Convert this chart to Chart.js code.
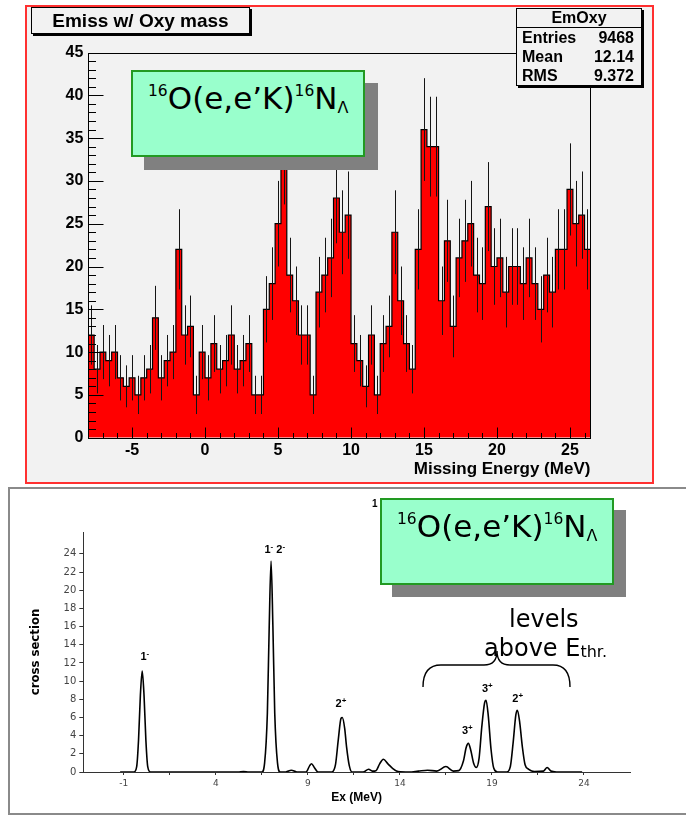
<!DOCTYPE html>
<html>
<head>
<meta charset="utf-8">
<script src="https://cdn.jsdelivr.net/npm/chart.js@4.4.1/dist/chart.umd.min.js"></script>
<style>
  body { margin: 0; width: 686px; height: 815px; background: #fff; position: relative; overflow: hidden; font-family: "Liberation Sans", Arial, sans-serif; }
  canvas { position: absolute; left: 0; }
  .abs { position: absolute; }
  #frameTop { left: 25px; top: 5px; width: 625px; height: 475px; border: 2px solid #ff3030; background: #f2f2f2; }
  #frameBottom { left: 8px; top: 487px; width: 690px; height: 324px; border: 2px solid #8a8a8a; background: #fff; }
  #titleBox { left: 31px; top: 7px; width: 217px; height: 25px; border: 1px solid #000; box-shadow: 2px 2px 0 #000; background: #f2f2f2;
    font-weight: bold; font-size: 19px; line-height: 25px; text-align: center; }
  #statsBox { left: 516px; top: 8px; width: 124px; height: 76px; border: 1px solid #000; box-shadow: 2px 2px 0 #000; background: #f2f2f2;
    font-weight: bold; font-size: 16px; }
  #statsBox .hdr { position: absolute; left: 0; top: 0; width: 124px; height: 18px; line-height: 18px; text-align: center; border-bottom: 1px solid #000; }
  #statsBox .row { position: absolute; left: 5px; width: 112px; height: 19px; line-height: 19px; }
  #statsBox .row span { float: right; }
  .shadow { background: #808080; width: 234px; height: 87px; }
  .gbox { width: 230px; height: 83px; background: #99ffcc; border: 2px solid #229a22; font-family: "DejaVu Sans", Verdana, sans-serif;
    font-size: 31px; line-height: 31px; white-space: nowrap; }
  .gbox .txt { position: absolute; left: 15px; top: 11px; }
  .gbox sup { font-size: 15.5px; vertical-align: 13px; line-height: 0; }
  .gbox sub { font-size: 16px; vertical-align: -4px; line-height: 0; }
  .big { font-family: "DejaVu Sans", Verdana, sans-serif; font-size: 24px; white-space: nowrap; }
  .big sub { font-size: 16px; vertical-align: -1px; line-height: 0; }
</style>
</head>
<body>
<div id="frameTop" class="abs"></div>
<canvas id="emissChart" width="686" height="485" style="top:0"></canvas>
<div id="titleBox" class="abs">Emiss w/ Oxy mass</div>
<div id="statsBox" class="abs"></div>
<div class="abs shadow" style="left:144px;top:83px"></div>
<div class="abs gbox" style="left:131px;top:70px"><div class="txt"><sup>16</sup>O(e,e’K)<sup>16</sup>N<sub>Λ</sub></div></div>

<div id="frameBottom" class="abs"></div>
<canvas id="exChart" width="686" height="330" style="top:485px"></canvas>
<div class="abs" style="left:372px;top:498px;font-weight:bold;font-size:10px">1</div>
<div class="abs shadow" style="left:392px;top:510px"></div>
<div class="abs gbox" style="left:380px;top:498px"><div class="txt"><sup>16</sup>O(e,e’K)<sup>16</sup>N<sub>Λ</sub></div></div>
<div class="abs big" style="left:509px;top:605px">levels</div>
<div class="abs big" style="left:484px;top:634px">above E<sub>thr.</sub></div>
<svg class="abs" style="left:0;top:0" width="686" height="815">
  <path d="M423,687 Q423,665 441,665 L484,665 Q497,665 497,651 Q497,665 510,665 L553,665 Q570,665 570,687" fill="none" stroke="#000" stroke-width="1.4"/>
</svg>

<script>
// top histogram: missing energy, bins of 0.4 MeV starting at -8 MeV
const binStart = -8;
const binWidth = 0.4;
const emissCounts = [
  12, 8, 10, 9, 10, 7, 6, 7, 5, 7,
  8, 14, 7, 9, 10, 22, 12, 13, 5, 10,
  7, 11, 8, 9, 12, 8, 9, 11, 5, 5,
  15, 18, 25, 33, 19, 16, 12, 12, 5, 17,
  19, 21, 28, 24, 26, 11, 9, 6, 12, 5,
  11, 13, 24, 16, 11, 8, 22, 36, 34, 34,
  16, 23, 13, 21, 23, 25, 19, 18, 27, 20,
  21, 17, 20, 20, 18, 21, 18, 15, 19, 17,
  22, 22, 29, 25, 26, 22
];
const emissTicksX = [-5, 0, 5, 10, 15, 20, 25];
const statNames = ['Entries', 'Mean', 'RMS'];
const statValues = ['9468', '12.14', '9.372'];

// bottom theory curve
const exValues = [
  -1.2, -0.45, -0.3, -0.2, -0.1, 0.0, 0.1, 0.2, 0.3, 0.45,
  5.2, 5.5, 5.8, 6.5, 6.65, 6.8, 6.9, 7.0, 7.1, 7.2, 7.35, 7.5,
  7.8, 8.1, 8.4, 8.9, 9.1, 9.2, 9.35, 9.55,
  10.3, 10.5, 10.65, 10.8, 10.87, 11.0, 11.1, 11.25, 11.4,
  12.0, 12.3, 12.5, 12.7, 12.9, 13.1, 13.35, 13.6, 13.9,
  14.5, 15.0, 15.5, 16.0, 16.5, 16.9,
  17.2, 17.45, 17.6, 17.72, 17.85, 18.0, 18.15, 18.3, 18.45, 18.6, 18.68, 18.8, 18.95, 19.1, 19.3,
  19.8, 20.0, 20.15, 20.3, 20.38, 20.5, 20.65, 20.8, 21.0, 21.3,
  21.8, 22.0, 22.2, 22.5, 23.9
];
const crossSection = [
  0, 0, 0.6, 3.5, 8.4, 11.1, 8.4, 3.5, 0.6, 0,
  0, 0.05, 0, 0, 1.0, 6.5, 16, 23.2, 16, 6.5, 1.0, 0,
  0, 0.2, 0, 0, 0.7, 0.9, 0.5, 0,
  0, 0.8, 3.5, 5.9, 6.0, 4.8, 2.8, 0.7, 0,
  0, 0.3, 0.1, 0.15, 0.9, 1.4, 0.9, 0.4, 0.05,
  0, 0.1, 0.2, 0.1, 0.6, 0.1,
  0.15, 1.2, 2.7, 3.15, 2.4, 1.0, 0.5, 1.5, 5.0, 7.6, 7.9, 6.2, 2.5, 0.4, 0,
  0, 0.6, 3.2, 6.3, 6.8, 5.6, 2.8, 0.8, 0.3, 0.05,
  0.1, 0.5, 0.1, 0, 0
];
const exTickValues = [-1, 1.5, 4, 6.5, 9, 11.5, 14, 16.5, 19, 21.5, 24];
const exTickLabels = ['-1', '', '4', '', '9', '', '14', '', '19', '', '24'];
const csTickValues = [0, 2, 4, 6, 8, 10, 12, 14, 16, 18, 20, 22, 24];
const peakNames = ['1⁻', '1⁻ 2⁻', '2⁺', '3⁺', '3⁺', '2⁺'];
const peakNameX = [0.14, 7.2, 10.8, 17.66, 18.75, 20.4];
const peakNameY = [12.3, 24.1, 7.1, 4.2, 8.8, 7.7];

const rootFont = '"Liberation Sans", Arial, sans-serif';

// stats box
const statsBox = document.getElementById('statsBox');
statsBox.innerHTML = '<div class="hdr">EmOxy</div>' +
  statNames.map(function (n, i) {
    return '<div class="row" style="top:' + (19 + i * 19) + 'px">' + n + '<span>' + statValues[i] + '</span></div>';
  }).join('');

// histogram outline points: left edges plus the last right edge
const stepPoints = emissCounts.map(function (c, i) {
  return { x: binStart + i * binWidth, y: c };
});
stepPoints.push({ x: binStart + emissCounts.length * binWidth, y: emissCounts[emissCounts.length - 1] });

const rootAxes = {
  id: 'rootAxes',
  afterDatasetsDraw: function (chart) {
    const ctx = chart.ctx;
    const a = chart.chartArea;
    const x = chart.scales.x;
    const y = chart.scales.y;
    ctx.save();
    // error bars
    ctx.beginPath();
    ctx.rect(a.left, a.top, a.right - a.left, a.bottom - a.top);
    ctx.clip();
    ctx.strokeStyle = '#141414';
    ctx.lineWidth = 1;
    ctx.beginPath();
    emissCounts.forEach(function (c, i) {
      const px = Math.round(x.getPixelForValue(binStart + (i + 0.5) * binWidth)) + 0.5;
      const e = Math.sqrt(c);
      ctx.moveTo(px, y.getPixelForValue(c - e));
      ctx.lineTo(px, y.getPixelForValue(c + e));
    });
    ctx.stroke();
    ctx.restore();

    ctx.save();
    ctx.strokeStyle = '#000';
    ctx.lineWidth = 1;
    const l = Math.round(a.left) + 0.5, r = Math.round(a.right) + 0.5;
    const t = Math.round(a.top) + 0.5, b = Math.round(a.bottom) + 0.5;
    ctx.strokeRect(l, t, r - l, b - t);
    ctx.beginPath();
    for (let v = 0; v <= 45; v++) {
      const py = Math.round(y.getPixelForValue(v)) + 0.5;
      ctx.moveTo(l, py);
      ctx.lineTo(l + (v % 5 === 0 ? 15 : 7.5), py);
    }
    for (let v = -8; v <= 26; v++) {
      const px = Math.round(x.getPixelForValue(v)) + 0.5;
      ctx.moveTo(px, b);
      ctx.lineTo(px, b - (v % 5 === 0 ? 11 : 5.5));
    }
    ctx.stroke();
    ctx.restore();
  }
};

new Chart(document.getElementById('emissChart'), {
  type: 'line',
  data: {
    datasets: [{
      data: stepPoints,
      stepped: 'before',
      fill: 'origin',
      backgroundColor: '#ff0000',
      borderColor: '#000',
      borderWidth: 1.2,
      pointRadius: 0
    }]
  },
  options: {
    responsive: false,
    animation: false,
    devicePixelRatio: 1,
    layout: { padding: { left: 58.3, right: 95.6, top: 52.5, bottom: 5.3 } },
    plugins: { legend: { display: false }, tooltip: { enabled: false } },
    scales: {
      x: {
        type: 'linear',
        min: -8,
        max: 26.4,
        afterBuildTicks: function (scale) {
          scale.ticks = emissTicksX.map(function (v) { return { value: v }; });
        },
        afterFit: function (scale) { scale.height = 42; },
        grid: { display: false, drawTicks: false },
        border: { display: false },
        ticks: { color: '#000', font: { family: rootFont, size: 16, weight: 'bold' }, padding: 3, maxRotation: 0 },
        title: { display: true, text: 'Missing Energy (MeV)', align: 'end', color: '#000',
          font: { family: rootFont, size: 17, weight: 'bold' }, padding: 0 }
      },
      y: {
        min: 0,
        max: 45,
        afterFit: function (scale) { scale.width = 30; },
        grid: { display: false, drawTicks: false },
        border: { display: false },
        ticks: { stepSize: 5, color: '#000', font: { family: rootFont, size: 16, weight: 'bold' }, padding: 5 }
      }
    }
  },
  plugins: [rootAxes]
});

const peakLabels = {
  id: 'peakLabels',
  afterDatasetsDraw: function (chart) {
    const ctx = chart.ctx;
    const x = chart.scales.x;
    const y = chart.scales.y;
    ctx.save();
    ctx.fillStyle = '#000';
    ctx.textBaseline = 'alphabetic';
    peakNames.forEach(function (name, i) {
      const parts = Array.from(name).map(function (ch) {
        const sup = ch === '⁻' || ch === '⁺';
        return { t: ch === '⁻' ? '-' : ch === '⁺' ? '+' : ch, sup: sup };
      });
      let w = 0;
      parts.forEach(function (p) {
        ctx.font = 'bold ' + (p.sup ? 8 : 11) + 'px ' + rootFont;
        p.w = ctx.measureText(p.t).width;
        w += p.w;
      });
      let cx = x.getPixelForValue(peakNameX[i]) - w / 2;
      const by = y.getPixelForValue(peakNameY[i]);
      ctx.textAlign = 'left';
      parts.forEach(function (p) {
        ctx.font = 'bold ' + (p.sup ? 8 : 11) + 'px ' + rootFont;
        ctx.fillText(p.t, cx, p.sup ? by - 4 : by);
        cx += p.w;
      });
    });
    ctx.restore();
  }
};

new Chart(document.getElementById('exChart'), {
  type: 'line',
  data: {
    datasets: [{
      data: exValues.map(function (v, i) { return { x: v, y: crossSection[i] }; }),
      borderColor: '#000',
      borderWidth: 1.6,
      pointRadius: 0,
      fill: false,
      cubicInterpolationMode: 'monotone'
    }]
  },
  options: {
    responsive: false,
    animation: false,
    devicePixelRatio: 1,
    layout: { padding: { left: 20, right: 56, top: 47, bottom: 8 } },
    plugins: { legend: { display: false }, tooltip: { enabled: false } },
    scales: {
      x: {
        type: 'linear',
        min: -3.2,
        max: 26.5,
        afterBuildTicks: function (scale) {
          scale.ticks = exTickValues.map(function (v) { return { value: v }; });
        },
        afterFit: function (scale) { scale.height = 35; },
        grid: { drawOnChartArea: false, tickLength: 3, color: '#333' },
        border: { color: '#333', width: 1 },
        ticks: {
          autoSkip: false, maxRotation: 0, padding: 3, color: '#444',
          font: { family: '"DejaVu Sans", sans-serif', size: 9 },
          callback: function (v, i) { return exTickLabels[i]; }
        },
        title: { display: true, text: 'Ex (MeV)', color: '#000', font: { family: rootFont, size: 12, weight: 'bold' }, padding: { top: 0, bottom: 2 } }
      },
      y: {
        min: 0,
        max: 26.4,
        afterBuildTicks: function (scale) {
          scale.ticks = csTickValues.map(function (v) { return { value: v }; });
        },
        afterFit: function (scale) { scale.width = 63.3; },
        grid: { drawOnChartArea: false, tickLength: 4, color: '#333' },
        border: { color: '#333', width: 1 },
        ticks: { autoSkip: false, padding: 3, color: '#444', font: { family: '"DejaVu Sans", sans-serif', size: 10 } },
        title: { display: true, text: 'cross section', color: '#000',
          font: { family: '"Liberation Sans Narrow", "DejaVu Sans Condensed", sans-serif', size: 13, weight: 'bold' }, padding: { top: 8, bottom: 0 } }
      }
    }
  },
  plugins: [peakLabels]
});
</script>
</body>
</html>
